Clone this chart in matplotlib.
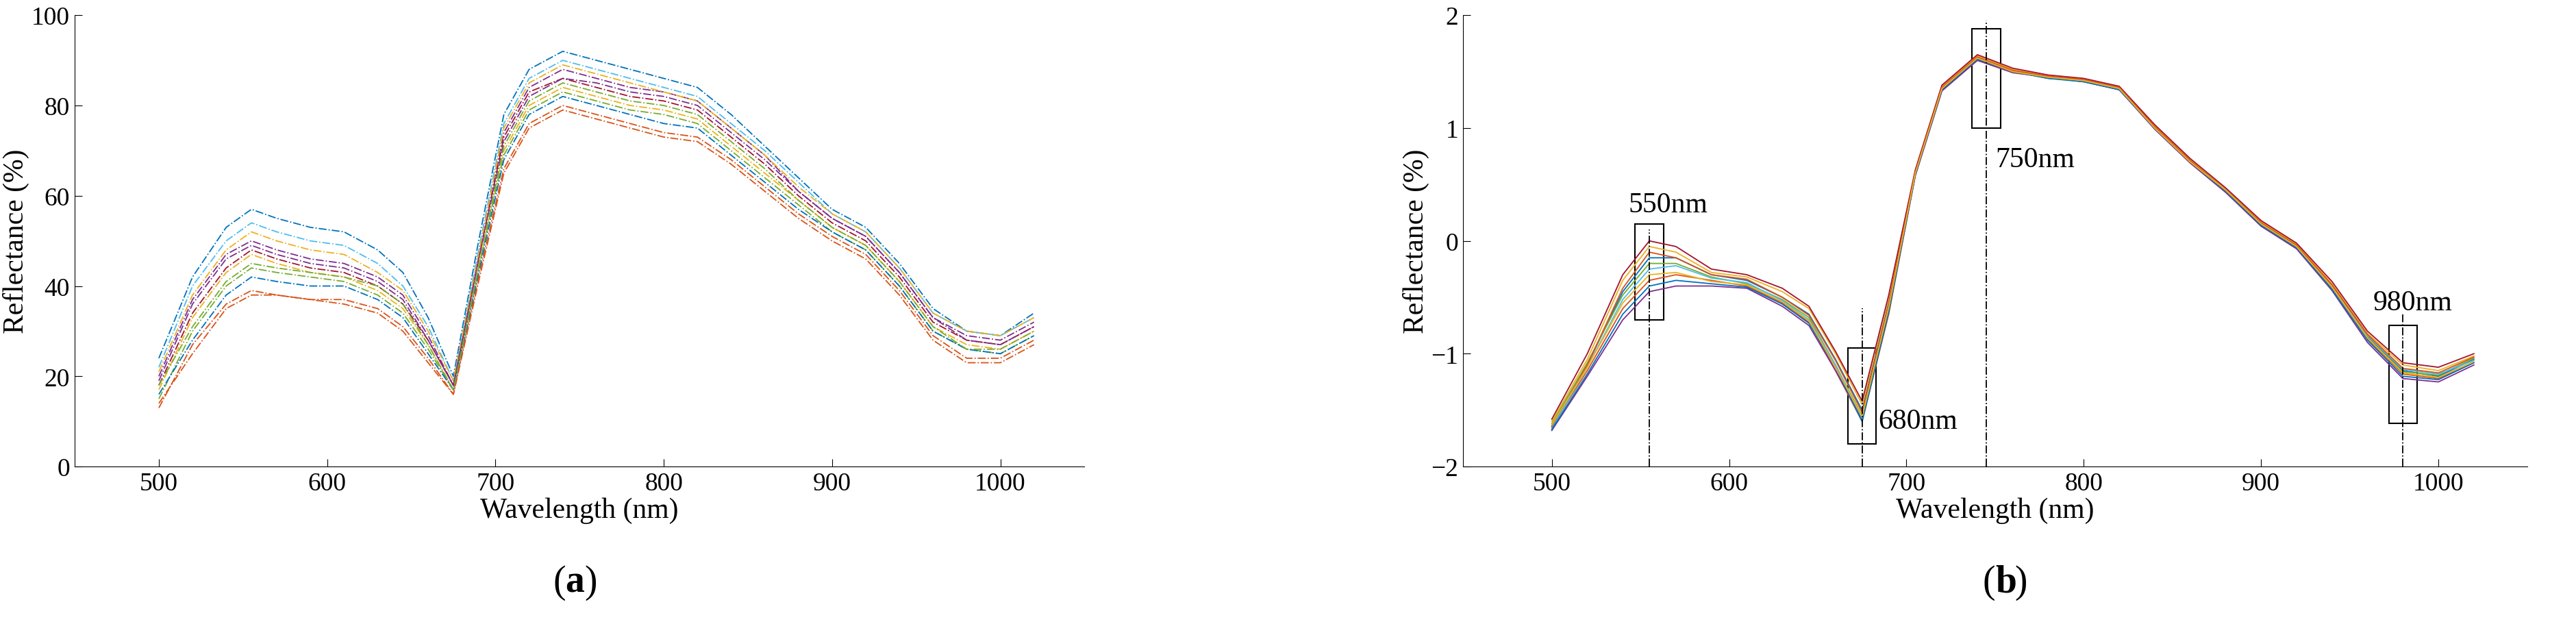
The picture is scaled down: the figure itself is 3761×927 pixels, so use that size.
import matplotlib
matplotlib.use("Agg")
import matplotlib.pyplot as plt
from matplotlib.patches import Rectangle

plt.rcParams['font.family'] = ['Liberation Serif', 'DejaVu Serif']

wavelength = [500,520,540,555,570,590,610,630,645,660,675,690,705,720,740,760,780,800,820,840,860,880,900,920,940,960,980,1000,1020]

raw_curves = [
 [24,42,53,57,55,53,52,48,43,33,20,50,78,88,92,90,88,86,84,78,71,64,57,53,45,35,30,29,34],
 [13,27,36,39,38,37,37,35,31,24,16,42,66,76,80,78,76,74,73,68,62,56,51,47,39,29,24,24,28],
 [17,33,43,47,45,43,42,39,35,27,17,45,70,80,84,82,80,79,77,71,65,59,53,49,41,31,27,26,30],
 [20,37,47,50,48,46,45,42,38,29,18,47,74,84,88,86,84,83,81,75,69,61,55,51,43,33,29,28,32],
 [15,30,40,44,43,42,41,38,34,26,17,44,69,79,83,81,79,78,76,70,64,58,52,48,40,30,26,25,29],
 [22,40,50,54,52,50,49,45,40,31,19,48,76,86,90,88,86,84,82,76,70,63,56,52,44,34,30,29,33],
 [18,34,44,48,46,44,43,40,36,28,18,46,73,83,86,84,82,81,79,73,67,60,54,50,42,32,28,27,31],
 [16,28,38,42,41,40,40,37,33,25,17,43,68,78,82,80,78,76,75,69,63,57,52,48,40,30,26,25,29],
 [14,25,35,38,38,37,36,34,30,23,16,41,65,75,79,77,75,73,72,67,61,55,50,46,38,28,23,23,27],
 [21,38,48,52,50,48,47,43,39,30,19,47,75,85,89,87,85,83,81,75,69,62,56,52,44,34,30,29,33],
 [19,36,46,49,47,45,44,41,37,28,18,46,72,82,86,85,83,82,80,74,68,61,55,51,43,33,28,27,31],
 [18,31,41,45,44,43,42,40,36,27,17,44,71,81,85,83,81,80,78,72,66,59,53,49,41,31,26,26,30],
]

snv_curves = [
 [-1.65,-1.10,-0.45,-0.15,-0.15,-0.30,-0.35,-0.50,-0.65,-1.05,-1.50,-0.55,0.60,1.35,1.62,1.50,1.45,1.42,1.35,1.00,0.70,0.45,0.15,-0.05,-0.40,-0.85,-1.15,-1.20,-1.05],
 [-1.65,-1.15,-0.60,-0.35,-0.30,-0.35,-0.40,-0.55,-0.72,-1.15,-1.60,-0.65,0.58,1.33,1.60,1.50,1.44,1.42,1.34,1.00,0.70,0.44,0.14,-0.06,-0.42,-0.87,-1.18,-1.22,-1.08],
 [-1.60,-1.05,-0.35,-0.05,-0.10,-0.28,-0.32,-0.45,-0.60,-1.00,-1.45,-0.50,0.62,1.37,1.64,1.52,1.46,1.43,1.36,1.02,0.72,0.46,0.17,-0.03,-0.38,-0.82,-1.10,-1.15,-1.02],
 [-1.68,-1.20,-0.70,-0.45,-0.40,-0.40,-0.42,-0.58,-0.75,-1.15,-1.58,-0.62,0.58,1.33,1.60,1.49,1.45,1.41,1.34,0.99,0.69,0.43,0.13,-0.07,-0.44,-0.90,-1.22,-1.25,-1.10],
 [-1.62,-1.08,-0.48,-0.20,-0.20,-0.32,-0.38,-0.52,-0.68,-1.10,-1.55,-0.58,0.60,1.35,1.62,1.51,1.45,1.42,1.35,1.01,0.71,0.45,0.16,-0.04,-0.41,-0.86,-1.16,-1.19,-1.04],
 [-1.66,-1.12,-0.52,-0.25,-0.22,-0.33,-0.37,-0.53,-0.70,-1.10,-1.57,-0.60,0.60,1.35,1.62,1.50,1.45,1.42,1.35,1.00,0.70,0.45,0.15,-0.05,-0.40,-0.84,-1.14,-1.18,-1.06],
 [-1.58,-1.00,-0.30,0.00,-0.05,-0.25,-0.30,-0.42,-0.58,-0.98,-1.42,-0.48,0.63,1.38,1.65,1.53,1.47,1.44,1.37,1.03,0.73,0.47,0.18,-0.02,-0.36,-0.80,-1.08,-1.12,-1.00],
 [-1.67,-1.18,-0.65,-0.40,-0.35,-0.38,-0.41,-0.56,-0.73,-1.12,-1.60,-0.63,0.59,1.34,1.61,1.50,1.44,1.41,1.34,1.00,0.70,0.44,0.14,-0.06,-0.43,-0.88,-1.20,-1.23,-1.08],
 [-1.64,-1.10,-0.42,-0.10,-0.15,-0.30,-0.34,-0.50,-0.66,-1.06,-1.52,-0.56,0.61,1.36,1.63,1.51,1.46,1.43,1.36,1.01,0.71,0.45,0.16,-0.04,-0.39,-0.83,-1.13,-1.17,-1.03],
 [-1.63,-1.12,-0.55,-0.30,-0.28,-0.36,-0.39,-0.54,-0.71,-1.12,-1.56,-0.59,0.60,1.35,1.62,1.50,1.45,1.42,1.35,1.00,0.70,0.45,0.15,-0.05,-0.41,-0.86,-1.17,-1.21,-1.07],
]

feature_wl = [550, 680, 750, 980]
feature_line_x = [555, 675, 745, 980]
feature_box = [(-0.7, 0.15), (-1.8, -0.95), (1.0, 1.88), (-1.62, -0.75)]
feature_line_top = [0.1, -0.6, 1.95, -0.65]
feature_text = [(543, 0.32), (684, -1.6), (750, 0.72), (963, -0.55)]

colors = ['#0072BD','#D95319','#EDB120','#7E2F8E','#77AC30','#4DBEEE','#A2142F']

fig = plt.figure(figsize=(37.61, 9.28), dpi=100)
axa = fig.add_axes([0.029, 0.265, 0.392, 0.71])
axb = fig.add_axes([0.568, 0.265, 0.413, 0.71])

for i, c in enumerate(raw_curves):
    axa.plot(wavelength, c, linestyle='-.', lw=1.3, color=colors[i % 7])
for i, c in enumerate(snv_curves):
    axb.plot(wavelength, c, linestyle='-', lw=1.3, color=colors[i % 7])

for ax in (axa, axb):
    ax.set_xlim(450, 1050)
    ax.set_xticks([500, 600, 700, 800, 900, 1000])
    ax.spines['top'].set_visible(False)
    ax.spines['right'].set_visible(False)
    ax.tick_params(direction='in', labelsize=27, length=8, pad=5)
    ax.set_xlabel('Wavelength (nm)', fontsize=30, labelpad=2)
    ax.set_ylabel('Reflectance (%)', fontsize=30, labelpad=2)

axa.set_ylim(0, 100)
axb.set_ylim(-2, 2)
axb.set_yticks([-2, -1, 0, 1, 2])

w = 16
for wl, lx, (y0, y1), lt, (tx, ty) in zip(feature_wl, feature_line_x, feature_box, feature_line_top, feature_text):
    axb.add_patch(Rectangle((lx - w/2, y0), w, y1 - y0, fill=False, ec='black', lw=1.5))
    axb.plot([lx, lx], [-2, lt], color='black', linestyle='-.', lw=1.3)
    axb.text(tx, ty, f'{wl}nm', fontsize=30, ha='left', va='center')

for x, letter in ((0.2195, 'a'), (0.7745, 'b')):
    fig.text(x, 0.083, '(', fontsize=40, ha='right', va='center')
    fig.text(x, 0.083, letter, fontsize=40, weight='bold', ha='left', va='center')
    fig.text(x + 0.0075, 0.083, ')', fontsize=40, ha='left', va='center')

fig.savefig('out.png', dpi=100)
